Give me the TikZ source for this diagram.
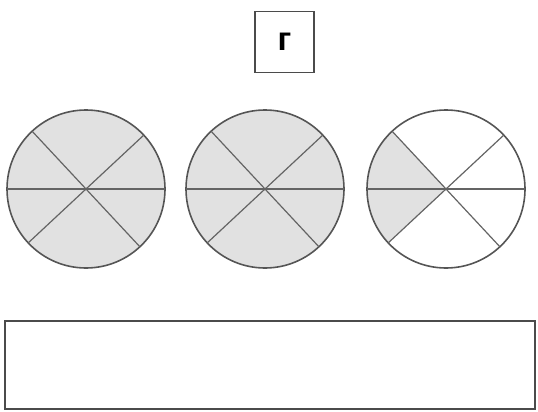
\documentclass[tikz,border=0pt]{standalone}
\usepackage{fontspec}
\setmainfont{Liberation Sans}
\usetikzlibrary{positioning,backgrounds}
\definecolor{pieline}{RGB}{85,85,85}
\definecolor{spokeline}{RGB}{100,100,100}
\definecolor{piefill}{RGB}{225,225,225}
\definecolor{boxline}{RGB}{75,75,75}
\tikzset{
  pie/.style={circle,draw=pieline,line width=1.6pt,minimum size=158pt,
              inner sep=0pt,outer sep=0pt},
  spoke/.style={draw=spokeline,line width=1.2pt},
  lbox/.style={draw=boxline,line width=1.5pt,minimum width=59pt,minimum height=61pt,
               inner sep=0pt,font=\fontsize{33}{33}\selectfont\bfseries},
  ansbox/.style={draw=boxline,line width=1.5pt,minimum width=530pt,minimum height=88pt,
                 inner sep=0pt},
}
\begin{document}
\begin{tikzpicture}[x=1pt,y=-1pt]
\useasboundingbox (0,0) rectangle (538,412);
\node[lbox] (lbl) at (284.5,42) {г};
\node[pie,fill=piefill] (c1) at (86,189) {};
\node[pie,fill=piefill] (c2) at (265,189) {};
\node[pie] (c3) at (446,189) {};
\begin{scope}[on background layer]
  \fill[piefill] (c3.center) -- (c3.133) arc[start angle=133,end angle=223,radius=79pt] -- cycle;
\end{scope}
\foreach \c in {c1,c2,c3}{
  \draw[spoke] (\c.180) -- (\c.0);
  \draw[spoke] (\c.43) -- (\c.223);
  \draw[spoke] (\c.133) -- (\c.313);
}
\node[ansbox] (ans) at (270,365) {};
\end{tikzpicture}
\end{document}
